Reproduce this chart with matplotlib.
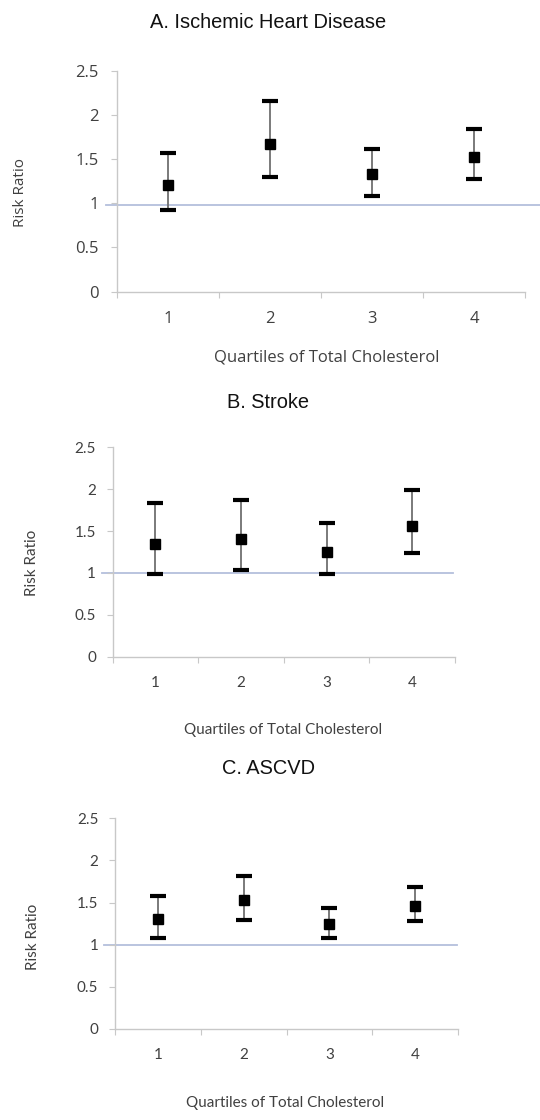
import matplotlib
matplotlib.use("Agg")
import matplotlib.pyplot as plt
import numpy as np

W, H = 540, 1120
DPI = 100

quartiles = [1, 2, 3, 4]
quartile_labels = ["1", "2", "3", "4"]
yticks = [0, 0.5, 1, 1.5, 2, 2.5]
ytick_labels = ["0", "0.5", "1", "1.5", "2", "2.5"]

titles = ["A. Ischemic Heart Disease", "B. Stroke", "C. ASCVD"]
xlabel = "Quartiles of Total Cholesterol"
ylabel = "Risk Ratio"

ihd_rr = [1.21, 1.67, 1.33, 1.53]
ihd_lo = [0.92, 1.30, 1.08, 1.27]
ihd_hi = [1.57, 2.16, 1.61, 1.84]

stroke_rr = [1.35, 1.40, 1.25, 1.565]
stroke_lo = [0.99, 1.04, 0.99, 1.235]
stroke_hi = [1.84, 1.875, 1.60, 1.99]

ascvd_rr = [1.30, 1.53, 1.24, 1.455]
ascvd_lo = [1.08, 1.29, 1.08, 1.28]
ascvd_hi = [1.58, 1.81, 1.44, 1.68]

ref_level = [0.98, 1.0, 1.0]

fig = plt.figure(figsize=(W / DPI, H / DPI), dpi=DPI)

# pixel boxes: (left, right, top(2.5), bottom(0))
boxes = [(117, 525, 71, 291.5), (112.7, 455, 447.3, 656.7), (115, 458, 818.3, 1029)]
ref_ext = [(0.39, 4.65), (0.38, 4.48), (0.37, 4.49)]
title_y = [22, 402, 768]
xlabel_y = [357, 730, 1103]
xlabel_x = [327, 283, 285]
ylabel_x = [21, 32, 33]
ylabel_yc = [193, 563, 937]
tick_fonts = ["Open Sans", "Lato", "Lato"]
tick_sizes = [12, 11, 11]
xlabel_sizes = [12, 11, 11]
ylabel_sizes = [11, 11, 11]
ytick_pads = [9, 8, 8]

data = [(ihd_rr, ihd_lo, ihd_hi), (stroke_rr, stroke_lo, stroke_hi), (ascvd_rr, ascvd_lo, ascvd_hi)]

for i, (box, (rr, lo, hi)) in enumerate(zip(boxes, data)):
    l, r, t, b = box
    ax = fig.add_axes([l / W, 1 - b / H, (r - l) / W, (b - t) / H])
    ax.set_xlim(0.5, 4.5)
    ax.set_ylim(0, 2.5)
    for s in ["top", "right"]:
        ax.spines[s].set_visible(False)
    for s in ["left", "bottom"]:
        ax.spines[s].set_color("#c8c8c8")
        ax.spines[s].set_linewidth(1.0)
    ax.set_xticks([0.5, 1.5, 2.5, 3.5, 4.5])
    ax.set_xticklabels([])
    ax.set_xticks(quartiles, minor=True)
    ax.set_xticklabels(quartile_labels, minor=True, fontfamily=tick_fonts[i],
                       fontsize=tick_sizes[i], color="#404040")
    ax.tick_params(axis="x", which="major", length=4, color="#c8c8c8", direction="out")
    ax.tick_params(axis="x", which="minor", length=0, pad=14)
    ax.set_yticks(yticks)
    ax.set_yticklabels(ytick_labels, fontfamily=tick_fonts[i], fontsize=tick_sizes[i], color="#404040")
    ax.tick_params(axis="y", length=4, color="#c8c8c8", direction="out", pad=ytick_pads[i])

    ax.plot(list(ref_ext[i]), [ref_level[i], ref_level[i]], color="#b4bfdc", lw=1.3,
            clip_on=False, zorder=1)

    rr_a = np.array(rr); lo_a = np.array(lo); hi_a = np.array(hi)
    ax.errorbar(quartiles, rr_a, yerr=[rr_a - lo_a, hi_a - rr_a], fmt="none",
                ecolor="#707070", elinewidth=1.3, capsize=0, zorder=2)
    ax.errorbar(quartiles, lo_a, fmt="_", color="black", ms=12, mew=3, zorder=3, ls="none")
    ax.errorbar(quartiles, hi_a, fmt="_", color="black", ms=12, mew=3, zorder=3, ls="none")
    ax.plot(quartiles, rr_a, "s", color="black", ms=7, zorder=4, ls="none")

    fig.text(268 / W, 1 - title_y[i] / H, titles[i], ha="center", va="center",
             fontfamily="Liberation Sans", fontsize=14.4, color="#111111")
    fig.text(xlabel_x[i] / W, 1 - xlabel_y[i] / H, xlabel, ha="center", va="center",
             fontfamily=tick_fonts[i], fontsize=xlabel_sizes[i], color="#404040")
    fig.text(ylabel_x[i] / W, 1 - ylabel_yc[i] / H, ylabel, ha="center", va="center",
             rotation=90, fontfamily=tick_fonts[i], fontsize=ylabel_sizes[i], color="#404040")

fig.savefig("out.png", dpi=DPI, facecolor="white")
